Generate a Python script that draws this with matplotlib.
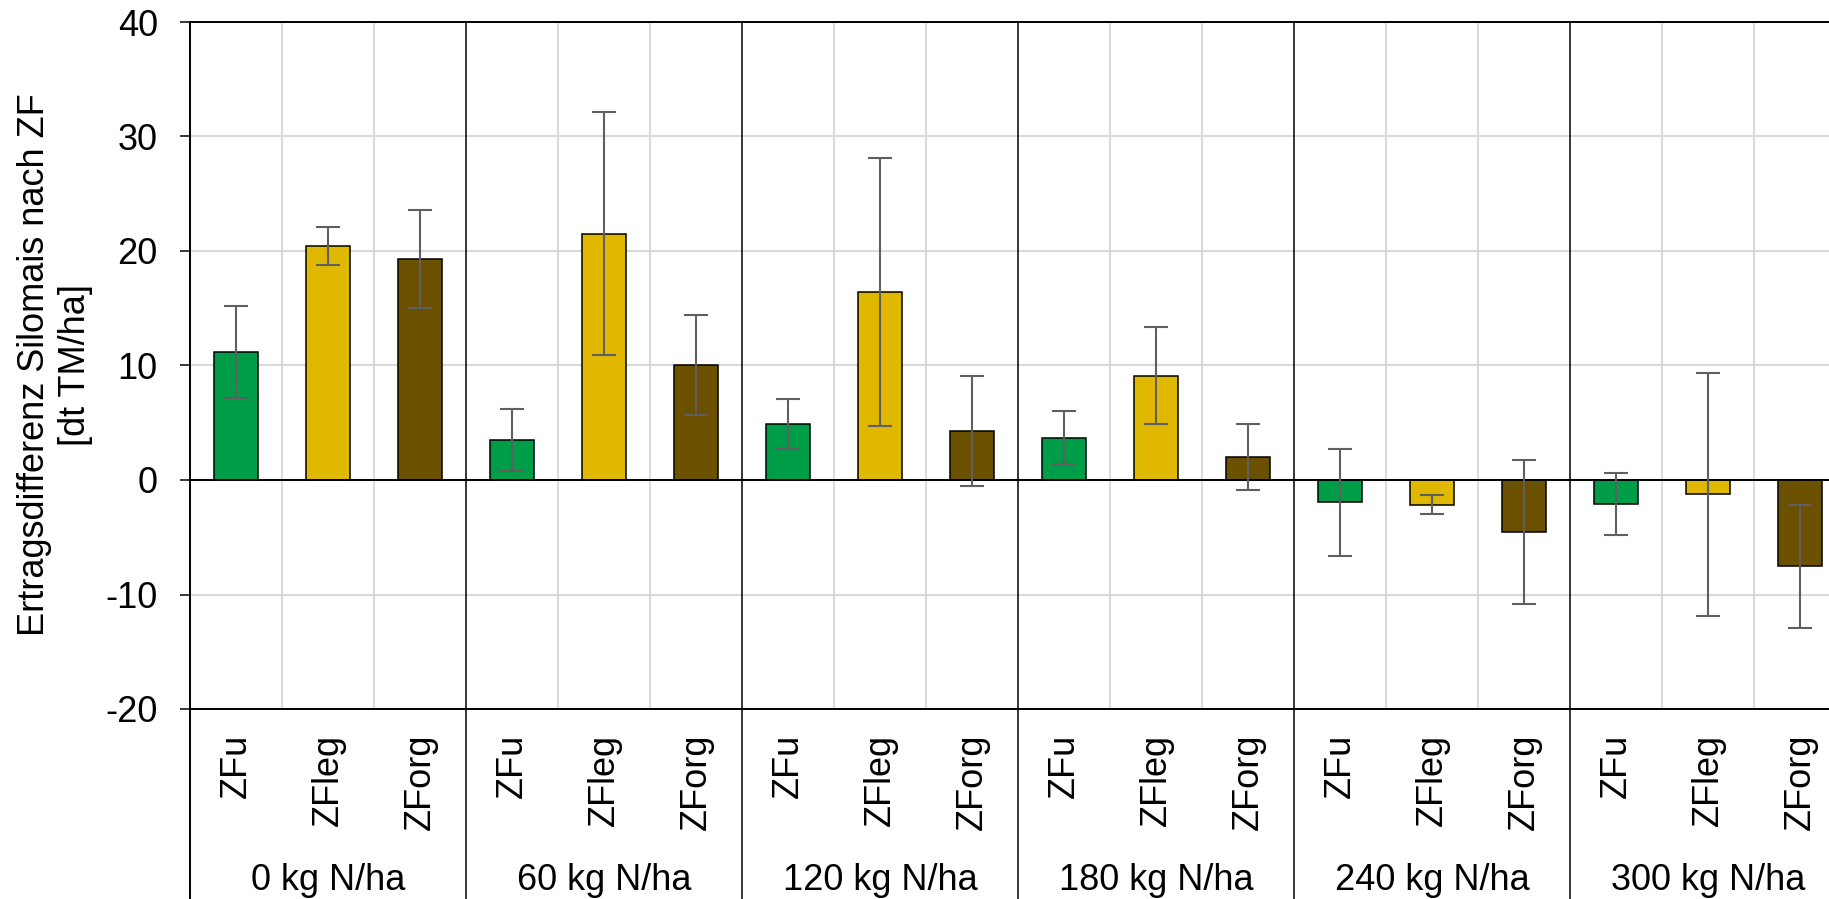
import matplotlib
matplotlib.use("Agg")
import matplotlib.pyplot as plt
import numpy as np

plt.rcParams['font.family'] = ['Liberation Sans', 'DejaVu Sans']
plt.rcParams['axes.unicode_minus'] = False

# Data
groups = ["0 kg N/ha", "60 kg N/ha", "120 kg N/ha", "180 kg N/ha", "240 kg N/ha", "300 kg N/ha"]
variants = ["ZFu", "ZFleg", "ZForg"]

zfu = [11.2, 3.5, 4.9, 3.7, -1.95, -2.1]
zfu_err = [4.0, 2.7, 2.2, 2.3, 4.7, 2.7]
zfleg = [20.45, 21.5, 16.4, 9.1, -2.15, -1.25]
zfleg_err = [1.65, 10.6, 11.7, 4.25, 0.8, 10.6]
zforg = [19.3, 10.05, 4.28, 2.0, -4.55, -7.55]
zforg_err = [4.3, 4.4, 4.8, 2.9, 6.3, 5.4]

colors = ["#009D49", "#E0B800", "#6B5000"]

W, H = 1829, 899
fig = plt.figure(figsize=(W / 100, H / 100), dpi=100)
ax_l, ax_r, ax_t, ax_b = 190, 1846, 22, 709
ax = fig.add_axes([ax_l / W, 1 - ax_b / H, (ax_r - ax_l) / W, (ax_b - ax_t) / H])

n_var = len(variants)
series = [(zfu, zfu_err), (zfleg, zfleg_err), (zforg, zforg_err)]

# bars, one series at a time, placed in their category slots
for j, (vals, errs) in enumerate(series):
    x = np.arange(len(groups)) * n_var + j
    ax.bar(x, vals, width=0.47, color=colors[j], edgecolor="black", linewidth=1.1, zorder=3)
    ax.errorbar(x, vals, yerr=errs, fmt="none", ecolor="#5f5f5f", elinewidth=1.5,
                capsize=8.5, capthick=1.5, zorder=4)

n_cat = len(groups) * n_var
ax.set_xlim(-0.5, n_cat - 0.5)
ax.set_ylim(-20, 40)
ax.set_yticks(np.arange(-20, 41, 10))

# light horizontal grid
ax.yaxis.grid(True, color="#d9d9d9", linewidth=1.5)
ax.set_axisbelow(True)

# light vertical lines between categories, black between groups
xtr = ax.get_xaxis_transform()
for b in np.arange(0.5, n_cat - 0.5, 1.0):
    if (b + 0.5) % n_var == 0:
        ax.plot([b, b], [-0.3, 1], color="black", linewidth=1.1, transform=xtr, clip_on=False, zorder=5)
    else:
        ax.axvline(b, color="#d9d9d9", linewidth=1.5, zorder=1)
ax.plot([-0.5, -0.5], [-0.3, 1], color="black", linewidth=1.4, transform=xtr, clip_on=False, zorder=5)

ax.axhline(0, color="black", linewidth=1.4, zorder=3.5)

for s in ["left", "right"]:
    ax.spines[s].set_visible(False)
for s in ["top", "bottom"]:
    ax.spines[s].set_color("black")
    ax.spines[s].set_linewidth(1.4)

# category labels (rotated) and group labels below
ax.set_xticks(np.arange(n_cat))
ax.set_xticklabels(variants * len(groups), rotation=90, fontsize=26)
ax.tick_params(axis="x", length=0, pad=18)
ax.tick_params(axis="y", direction="out", length=7.2, width=1.1, labelsize=26, pad=16)

for i, g in enumerate(groups):
    xc = i * n_var + (n_var - 1) / 2
    ax.text(xc, -(890 - ax_b) / (ax_b - ax_t), g, transform=xtr, ha="center", va="baseline",
            fontsize=26)

fig.text(55 / W, 1 - 365 / H, "Ertragsdifferenz Silomais nach ZF\n[dt TM/ha]", rotation=90,
         ha="center", va="center", multialignment="center", fontsize=26)

fig.savefig("out.png", dpi=100)
